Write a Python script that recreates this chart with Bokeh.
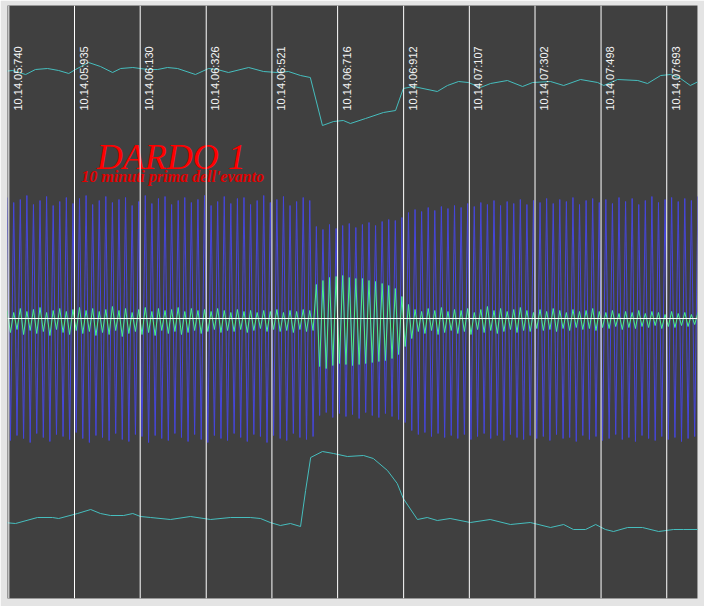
import math
from bokeh.plotting import figure
from bokeh.models import Range1d, Span, ColumnDataSource
from bokeh.core.properties import value
from bokeh.embed import file_html
from bokeh.resources import INLINE

# ---- tick labels (time stamps) and their positions (seconds) ----
tick_labels = ["10.14.05:740", "10.14.05:935", "10.14.06:130", "10.14.06:326",
               "10.14.06:521", "10.14.06:716", "10.14.06:912", "10.14.07:107",
               "10.14.07:302", "10.14.07:498", "10.14.07:693"]
tick_times = [5.740, 5.935, 6.130, 6.326, 6.521, 6.716, 6.912, 7.107, 7.302, 7.498, 7.693]

# ---- oscillating signals: per-cycle peak / trough values (sampling start + period) ----
wave_t0 = 5.735
wave_period = 0.01953

blue_tops = [
    121, 116, 119, 123, 114, 118, 122, 113, 117, 121,
    115, 120, 123, 114, 118, 122, 116, 119, 121, 113,
    117, 123, 115, 120, 122, 114, 118, 121, 116, 119,
    123, 113, 117, 122, 115, 120, 121, 114, 118, 123,
    116, 119, 122, 113, 117, 121, 118,
    92, 89, 94, 90, 93, 95, 91, 94, 96, 93, 97, 99, 98, 101,
    106, 109, 107, 111, 108, 112, 110, 113, 111, 115,
    112, 116, 114, 118, 113, 117, 115, 119, 114, 118,
    116, 120, 115, 119, 117, 121, 114, 118, 120, 116,
    119, 115, 121, 117, 120, 114, 118, 122, 116, 119,
    121, 117, 120, 118, 122,
]
blue_bottoms = [
    -122, -117, -120, -124, -115, -119, -123, -116, -118, -121,
    -114, -120, -124, -117, -119, -122, -115, -121, -123, -116,
    -118, -124, -117, -120, -122, -115, -119, -123, -116, -121,
    -124, -117, -120, -122, -115, -119, -123, -116, -118, -124,
    -117, -120, -122, -115, -119, -121, -118,
    -97, -94, -99, -95, -98, -96, -100, -94, -97, -99, -95, -98, -101, -104,
    -112, -116, -114, -118, -115, -119, -117, -120, -116, -121,
    -118, -115, -120, -117, -122, -116, -119, -121, -117, -120,
    -118, -122, -116, -120, -119, -123, -117, -121, -118, -122,
    -120, -116, -121, -119, -123, -117, -120, -122, -118, -121,
    -119, -123, -120, -118, -122,
]
green_tops = [
    8, 6, 10, 7, 9, 11, 6, 8, 10, 7,
    9, 11, 8, 10, 7, 9, 12, 8, 10, 6,
    9, 11, 7, 10, 8, 9, 11, 7, 10, 8,
    9, 7, 10, 8, 6, 9, 7, 8, 6, 8,
    7, 9, 6, 8, 7, 9, 8,
    34, 38, 41, 42, 43, 41, 40, 40, 38, 37, 35, 33, 30, 22, 14,
    9, 7, 10, 8, 11, 7, 9, 8, 10, 6,
    9, 12, 8, 10, 7, 9, 11, 8, 6, 9,
    7, 10, 8, 6, 9, 7, 8, 10, 7, 6,
    8, 5, 7, 6, 8, 5, 7, 6, 4, 7,
    5, 6, 4, 6,
]
green_bottoms = [
    -14, -11, -16, -12, -15, -13, -17, -11, -14, -16,
    -12, -15, -13, -17, -14, -16, -12, -18, -15, -13,
    -16, -14, -17, -12, -15, -13, -16, -14, -12, -15,
    -13, -11, -14, -12, -13, -11, -14, -12, -10, -13,
    -11, -13, -12, -14, -11, -13, -12,
    -48, -50, -47, -45, -46, -47, -46, -45, -44, -43, -42, -40, -36, -28, -20,
    -13, -15, -12, -16, -14, -12, -15, -13, -16, -11,
    -14, -12, -15, -13, -11, -14, -12, -13, -10, -12,
    -11, -13, -10, -12, -9, -11, -10, -12, -9, -10,
    -8, -11, -9, -10, -8, -9, -7, -10, -8, -9,
    -7, -8, -6, -8,
]

# ---- slow traces (time, value) ----
top_t = [5.724, 5.751, 5.790, 5.819, 5.855, 5.888, 5.918, 5.938, 5.977, 6.012,
         6.048, 6.072, 6.108, 6.152, 6.182, 6.211, 6.241, 6.294, 6.333, 6.359,
         6.392, 6.452, 6.496, 6.537, 6.570, 6.606, 6.635, 6.671, 6.704, 6.733,
         6.754, 6.799, 6.852, 6.888, 6.911, 6.941, 7.012, 7.042, 7.075, 7.104,
         7.140, 7.170, 7.220, 7.265, 7.295, 7.348, 7.387, 7.437, 7.488, 7.506,
         7.547, 7.607, 7.636, 7.675, 7.704, 7.734, 7.763, 7.793]
top_v = [247, 248, 244, 249, 250, 248, 245, 249, 256, 252,
         246, 250, 251, 249, 249, 251, 250, 244, 250, 249,
         246, 251, 247, 246, 247, 243, 241, 193, 197, 198,
         195, 200, 206, 208, 230, 232, 227, 233, 237, 236,
         231, 235, 238, 232, 236, 237, 233, 239, 236, 233,
         239, 238, 235, 243, 244, 240, 233, 238]

bot_t = [5.724, 5.760, 5.825, 5.870, 5.888, 5.944, 5.983, 6.012, 6.042, 6.081,
         6.108, 6.131, 6.161, 6.220, 6.279, 6.339, 6.398, 6.457, 6.487, 6.516,
         6.546, 6.576, 6.606, 6.621, 6.636, 6.671, 6.704, 6.745, 6.793, 6.822,
         6.864, 6.893, 6.911, 6.953, 6.982, 7.012, 7.050, 7.110, 7.169, 7.229,
         7.288, 7.348, 7.387, 7.416, 7.452, 7.482, 7.511, 7.535, 7.577, 7.621,
         7.669, 7.713, 7.743, 7.793]
bot_v = [-204, -205, -199, -199, -200, -195, -191, -195, -197, -197,
         -195, -198, -199, -201, -198, -201, -199, -199, -200, -204,
         -207, -205, -208, -172, -139, -133, -135, -138, -137, -140,
         -152, -165, -180, -201, -199, -202, -200, -204, -201, -206,
         -204, -209, -206, -211, -211, -206, -211, -213, -209, -209,
         -213, -211, -211, -211]

title_text = "DARDO 1"
subtitle_text = "10 minuti prima dell'evanto"


def interleave(tops, bottoms):
    out = []
    for a, b in zip(tops, bottoms):
        out.extend([a, b])
    return out


blue_v = interleave(blue_tops, blue_bottoms)
green_v = interleave(green_tops, green_bottoms)
wave_t = [wave_t0 + i * wave_period / 2.0 for i in range(len(blue_v))]

p = figure(width=704, height=606,
           x_range=Range1d(5.7361, 7.7843), y_range=Range1d(-280, 313),
           output_backend="svg", toolbar_location=None,
           x_axis_location=None, y_axis_location=None,
           min_border_left=7, min_border_right=7, min_border_top=5,
           min_border_bottom=8,
           background_fill_color="#404040",
           border_fill_color="#e4e4e4", outline_line_color=None)
p.xgrid.visible = False
p.ygrid.visible = False

p.line(wave_t, blue_v, line_color="#4646dc", line_width=1)
p.line(wave_t, green_v, line_color="#4cf08c", line_width=1)
p.line(top_t, top_v, line_color="#46bebe", line_width=1)
p.line(bot_t, bot_v, line_color="#46bebe", line_width=1)

for t in tick_times:
    p.add_layout(Span(location=t, dimension="height", line_color="white",
                      line_width=1, level="overlay"))
p.add_layout(Span(location=0, dimension="width", line_color="white",
                  line_width=1, level="overlay"))

lab_src = ColumnDataSource(dict(x=tick_times, y=[208] * len(tick_times), t=tick_labels))
p.text(x="x", y="y", text="t", source=lab_src, angle=math.pi / 2,
       text_align="left", text_baseline="middle", x_offset=9,
       text_font=value("Liberation Sans"), text_font_size="11px",
       text_color="#f4f4f4", level="overlay")

p.text(x=[6.222], y=[162], text=[title_text], text_align="center",
       text_baseline="alphabetic", text_font=value("Liberation Serif"),
       text_font_style="italic", text_font_size="36px", text_color="#ff0000",
       level="overlay")
p.text(x=[6.226], y=[142], text=[subtitle_text], text_align="center",
       text_baseline="alphabetic", text_font=value("Liberation Serif"),
       text_font_style="bold italic", text_font_size="16px", text_color="#e00000",
       level="overlay")

open("out.html", "w").write(file_html(p, INLINE))
